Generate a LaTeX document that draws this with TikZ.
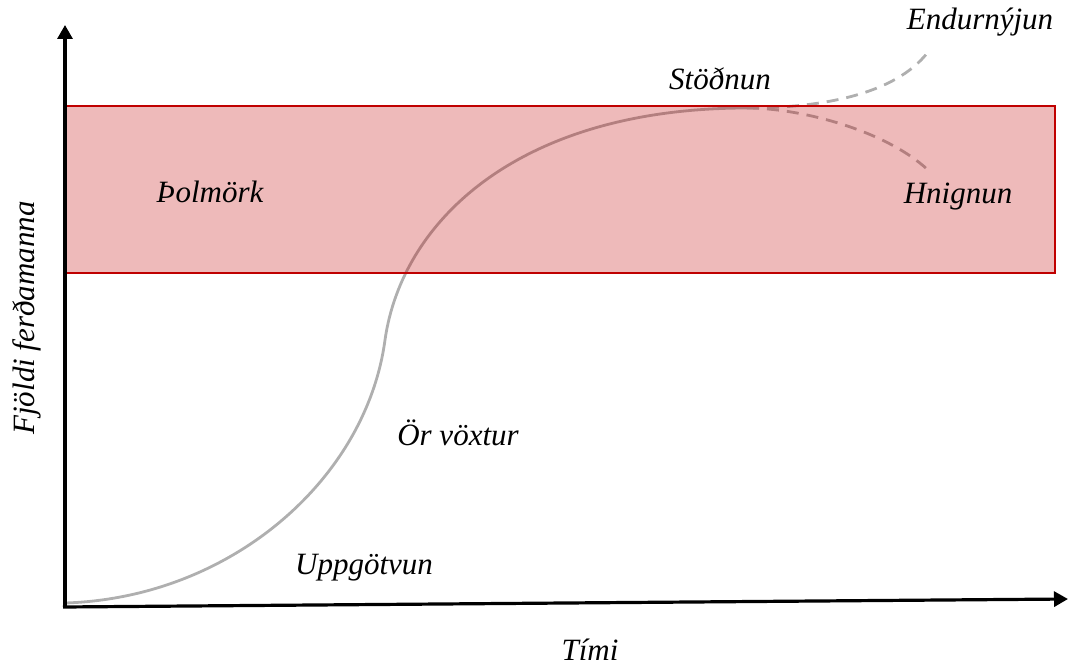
\documentclass[tikz,border=0pt]{standalone}
\usepackage{fontspec}
\setmainfont{Liberation Serif}
\usetikzlibrary{arrows.meta}
\definecolor{limit}{RGB}{192,0,0}
\definecolor{curvegray}{RGB}{175,175,175}
\tikzset{
  axis/.style={line width=3.2pt,-{Triangle[length=14pt,width=15pt]}},
  lbl/.style={font=\fontsize{31}{34}\selectfont\itshape,inner sep=0pt},
  growth/.style={draw=curvegray,line width=2.8pt},
  branch/.style={draw=curvegray,line width=2.8pt,dash pattern=on 12pt off 8pt},
  band/.style={draw=limit,line width=1.3pt,fill=limit,fill opacity=0.27}
}
\begin{document}
\begin{tikzpicture}[x=1pt,y=-1pt]
\useasboundingbox (0,0) rectangle (1068,666);
% coordinates
\coordinate (o) at (65,607);
\coordinate (ytop) at (65,25);
\coordinate (xo) at (63,607);
\coordinate (xend) at (1068,599);
\coordinate (c0) at (65,603);
\coordinate (c1) at (385,340);
\coordinate (peak) at (747,108);
\coordinate (renew) at (928,52);
\coordinate (decl) at (928,170);
% growth curve
\draw[growth] (c0) .. controls (230,598) and (366,480) .. (c1)
  .. controls (402,220) and (520,108) .. (peak);
\draw[branch] (peak) .. controls (820,108) and (895,95) .. (renew);
\draw[branch] (peak) .. controls (800,108) and (885,130) .. (decl);
% capacity band
\path[band] (65,106) rectangle (1055,273);
% axes
\draw[axis] (o) -- (ytop);
\draw[axis] (xo) -- (xend);
% labels
\node[lbl] (endur) at (980,22) {Endurnýjun};
\node[lbl] (stodn) at (720,79) {Stöðnun};
\node[lbl] (thol) at (210,192) {Þolmörk};
\node[lbl] (hnig) at (958,197) {Hnignun};
\node[lbl] (orv) at (458,433) {Ör vöxtur};
\node[lbl] (upp) at (364,568) {Uppgötvun};
\node[lbl] (timi) at (590,650) {Tími};
\node[lbl,rotate=90] (fjoldi) at (27,318) {Fjöldi ferðamanna};
\end{tikzpicture}
\end{document}
